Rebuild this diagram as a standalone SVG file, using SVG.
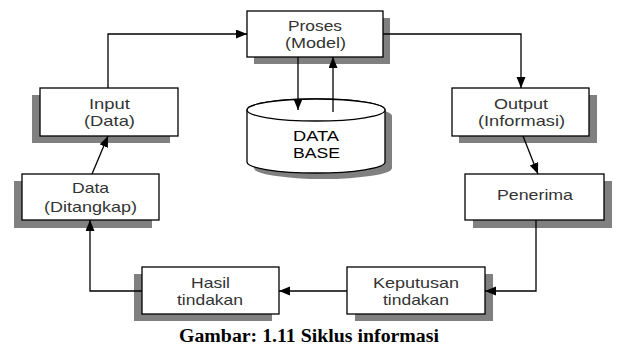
<svg xmlns="http://www.w3.org/2000/svg" width="620" height="345" viewBox="0 0 620 345">
<defs>
<marker id="arr" markerUnits="userSpaceOnUse" markerWidth="12" markerHeight="10" refX="11" refY="4.5" orient="auto">
<path d="M0,0 L11,4.5 L0,9 Z" fill="#000"/>
</marker>
</defs>
<style>
.box{fill:#fff;stroke:#000;stroke-width:1.3}
.sh{fill:#808080;stroke:none}
.lbl{font-family:"Liberation Sans",Arial,sans-serif;font-size:15px;fill:#333;text-anchor:middle}
.db{font-family:"Liberation Sans",Arial,sans-serif;font-size:15px;fill:#000;text-anchor:middle}
.con{fill:none;stroke:#000;stroke-width:1.3}
.cap{font-family:"Liberation Serif","Times New Roman",serif;font-size:18px;font-weight:bold;fill:#000;text-anchor:middle}
</style>
<rect width="620" height="345" fill="#fff"/>
<g id="proses">
<rect class="sh" x="254" y="18" width="136" height="46"/>
<rect class="box" x="247" y="11" width="136" height="46"/>
<text class="lbl" x="315" y="31" textLength="54" lengthAdjust="spacingAndGlyphs">Proses</text>
<text class="lbl" x="315.5" y="48" textLength="61" lengthAdjust="spacingAndGlyphs">(Model)</text>
</g>
<g id="input">
<rect class="sh" x="32" y="95" width="138" height="48"/>
<rect class="box" x="40" y="88" width="138" height="48"/>
<text class="lbl" x="109.5" y="108.5" textLength="41" lengthAdjust="spacingAndGlyphs">Input</text>
<text class="lbl" x="109.5" y="125.5" textLength="51" lengthAdjust="spacingAndGlyphs">(Data)</text>
</g>
<g id="output">
<rect class="sh" x="459" y="95" width="138" height="48"/>
<rect class="box" x="452" y="88" width="137" height="48"/>
<text class="lbl" x="521" y="108.5" textLength="54" lengthAdjust="spacingAndGlyphs">Output</text>
<text class="lbl" x="521.5" y="125.5" textLength="87" lengthAdjust="spacingAndGlyphs">(Informasi)</text>
</g>
<g id="database">
<path class="sh" d="M254,116 V168 A69,11 0 0 0 392,168 V116 A69,11 0 0 0 254,116 Z"/>
<path class="box" d="M247,110 V162 A69,11 0 0 0 385,162 V110 A69,11 0 0 0 247,110 Z"/>
<ellipse class="box" cx="316" cy="110" rx="69" ry="11"/>
<text class="db" x="316" y="140.5" textLength="46" lengthAdjust="spacingAndGlyphs">DATA</text>
<text class="db" x="316.5" y="157.5" textLength="47" lengthAdjust="spacingAndGlyphs">BASE</text>
</g>
<g id="penerima">
<rect class="sh" x="473" y="181" width="139" height="47"/>
<rect class="box" x="465" y="174" width="139" height="46"/>
<text class="lbl" x="535" y="199.5" textLength="76" lengthAdjust="spacingAndGlyphs">Penerima</text>
</g>
<g id="keputusan">
<rect class="sh" x="355" y="274" width="138" height="47"/>
<rect class="box" x="347" y="267" width="138" height="47"/>
<text class="lbl" x="416" y="287.5" textLength="86" lengthAdjust="spacingAndGlyphs">Keputusan</text>
<text class="lbl" x="416" y="304.5" textLength="66" lengthAdjust="spacingAndGlyphs">tindakan</text>
</g>
<g id="hasil">
<rect class="sh" x="134" y="274" width="138" height="47"/>
<rect class="box" x="142" y="267" width="137" height="47"/>
<text class="lbl" x="210.5" y="287.5" textLength="39" lengthAdjust="spacingAndGlyphs">Hasil</text>
<text class="lbl" x="210" y="304.5" textLength="66" lengthAdjust="spacingAndGlyphs">tindakan</text>
</g>
<g id="data">
<rect class="sh" x="14" y="181" width="138" height="47"/>
<rect class="box" x="22" y="174" width="137" height="46"/>
<text class="lbl" x="90.5" y="193" textLength="37" lengthAdjust="spacingAndGlyphs">Data</text>
<text class="lbl" x="90.5" y="212" textLength="93" lengthAdjust="spacingAndGlyphs">(Ditangkap)</text>
</g>
<g id="connectors">
<path class="con" d="M108,88 V34 H247" marker-end="url(#arr)"/>
<path class="con" d="M383,34 H521 V88" marker-end="url(#arr)"/>
<path class="con" d="M298,57 V110" marker-end="url(#arr)"/>
<path class="con" d="M333,112 V57" marker-end="url(#arr)"/>
<path class="con" d="M523,136 L538,174" marker-end="url(#arr)"/>
<path class="con" d="M536,220 V291 H485" marker-end="url(#arr)"/>
<path class="con" d="M347,291 H279" marker-end="url(#arr)"/>
<path class="con" d="M142,291 H90 V220" marker-end="url(#arr)"/>
<path class="con" d="M92,174 L108,136" marker-end="url(#arr)"/>
</g>
<text class="cap" x="309" y="342" textLength="260" lengthAdjust="spacingAndGlyphs">Gambar: 1.11 Siklus informasi</text>
</svg>
